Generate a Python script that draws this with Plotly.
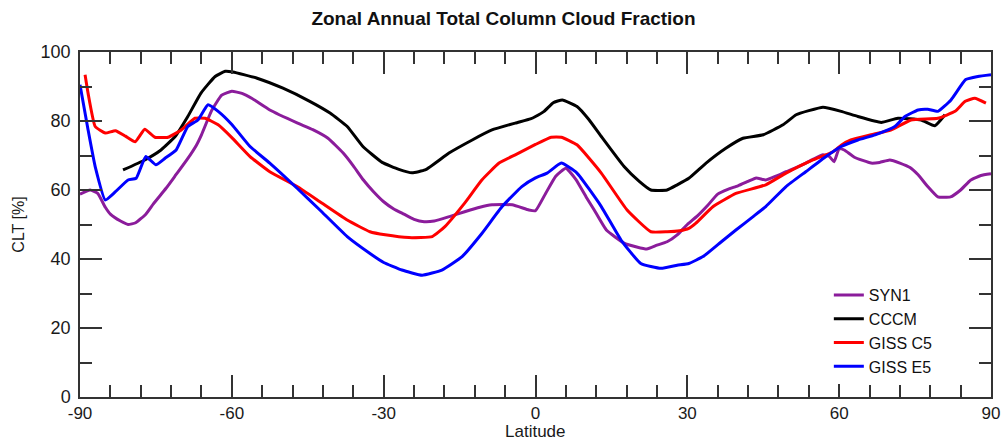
import plotly.graph_objects as go

# ---- data (latitude in degrees, CLT in %) ----
syn1_lat = [-90, -88, -86.5, -85, -84, -82, -80.5, -79, -77, -75.5, -73, -71, -69, -67, -66, -64, -62, -60,
            -58, -56, -52.5, -47, -44, -41, -38, -36, -34, -32, -30, -28, -26, -24, -22, -20, -17, -14, -11,
            -8.6, -4.6, -1.3, 0, 2, 4, 6, 8, 10, 11.6, 14, 17.5, 20, 22, 24, 26, 28, 30, 32, 34, 36, 38, 40,
            42, 43.6, 45.5, 47.5, 49.5, 51.5, 53.4, 55, 56.8, 58, 59, 60, 61, 63, 66.3, 68, 70, 72, 74, 75.6,
            77.5, 79.5, 82, 84, 86, 88, 90]
syn1_val = [58.8, 60, 59, 55, 53, 51, 50, 50.5, 53, 56, 60.5, 64.5, 68.5, 73, 76, 83, 87.5, 88.6,
            88, 86.5, 83.2, 79.4, 77.5, 75, 70.7, 67, 62.9, 59.5, 56.6, 54.5, 53, 51.5, 50.8, 51, 52.3, 53.7, 55,
            55.7, 55.7, 54.2, 54, 59, 64, 66.3, 63, 58, 54.2, 48.4, 44.6, 43.5, 42.9, 44, 45, 47, 50, 52.5, 55.5,
            58.8, 60.2, 61.2, 62.5, 63.5, 62.9, 64, 65.3, 66.5, 67.8, 69, 70.2, 69.8, 68.2, 72, 71.6, 69.5, 67.8,
            68, 68.7, 67.8, 66.5, 64.4, 61, 58, 58, 60, 62.9, 64.2, 64.7]

cccm_lat = [-81.5, -77.2, -74, -71.2, -68.7, -66.1, -63.3, -61.3, -59.8, -55, -49.9, -44.6, -40.6, -37.2,
            -34.1, -30.3, -27, -24.4, -21.8, -17.1, -12.5, -8.6, -4, -1, 0, 1.7, 3.5, 5.3, 8.2, 10.5, 13,
            17.5, 20.5, 22.8, 26, 28, 30.3, 33.7, 37.6, 41, 45, 48.9, 51.5, 54, 56.8, 60.4, 63.7, 68.3, 71.6,
            76.2, 78.9, 80.9]
cccm_val = [65.8, 68.7, 71.6, 75.5, 81.3, 88.1, 92.9, 94.4, 94.2, 92.4, 89.5, 85.7, 82.3, 78.4,
            72.6, 68, 66, 65, 65.8, 70.7, 74.5, 77.4, 79.4, 80.6, 81.3, 82.8, 85.3, 86.1, 84.2, 80.5, 75.5,
            66.8, 62.5, 60, 60, 61.5, 63.4, 67.8, 72.1, 75, 76, 78.9, 81.8, 83, 84, 82.8, 81.3, 79.6, 80.8,
            80.3, 78.6, 81.8]

c5_lat = [-89, -88.4, -87, -85, -83, -81, -79.1, -77.2, -75.2, -72.6, -70, -67.3, -65.3, -62.7, -60,
          -56.4, -52.5, -47.1, -42.6, -37.2, -32.7, -29.7, -25, -20.4, -17.9, -14, -10.6, -7.2, -4, 0, 3.1,
          5.1, 8.2, 13, 18.1, 22.8, 26, 28.5, 30.3, 31.7, 35.1, 39.6, 45.5, 49.5, 54.8, 58.8, 60.4, 62.3,
          66.3, 70.2, 74.2, 79.5, 82.9, 84.9, 86.8, 89]
c5_val = [93.4, 88, 78.4, 76.5, 77.2, 75.6, 74, 77.6, 75.3, 75.3, 77.4, 80.8, 80.8, 78.9, 75.2,
          69.7, 65.3, 61, 56.6, 51.3, 47.9, 47, 46.2, 46.5, 49.4, 56.2, 62.9, 67.8, 70.2, 73.2, 75.3,
          75.3, 73.1, 64.9, 54.2, 47.9, 47.9, 48.2, 48.9, 50.4, 55.2, 59, 61.5, 64.9, 68.7, 71.1, 73, 74.5,
          76, 77.4, 80.3, 80.8, 82.8, 85.7, 86.6, 85.2]

e5_lat = [-90, -88.4, -87, -85, -83, -80.5, -78.9, -77, -75, -73.2, -71, -68.7, -66.7, -64.7, -62.7, -60,
          -56.4, -52.5, -47.1, -42.6, -37.2, -32.7, -30, -26.4, -22.4, -18.5, -14.5, -10.6, -6.6, -2.7, 0,
          2.3, 5.1, 8.2, 13, 16.9, 20.8, 24.8, 28, 30.3, 33.1, 36.3, 39.6, 43, 45.5, 49.5, 53.4, 57.4, 60.4,
          63.7, 67.1, 71, 73, 75.6, 77.5, 79.5, 82.1, 85, 87.4, 90]
e5_val = [90.5, 77.4, 66.8, 57.1, 59.5, 62.9, 63.4, 69.7, 67.3, 69.2, 71.6, 78.4, 80.3, 84.7, 82.8, 79,
          72.6, 67.8, 60.5, 54.2, 46.5, 41.6, 39, 36.8, 35.3, 36.8, 40.7, 47.4, 55.2, 61, 63.5,
          64.9, 67.8, 64.9, 55.2, 45.5, 38.7, 37.3, 38.2, 38.7, 40.7, 44.5, 48.4, 52.3, 55.2, 61, 65.3, 69.7,
          72.6, 74.5, 76, 78.4, 81.3, 83.2, 83.4, 82.8, 86.1, 92, 92.9, 93.4]

series = [
    ("SYN1", syn1_lat, syn1_val, "#8b1c9b"),
    ("CCCM", cccm_lat, cccm_val, "#000000"),
    ("GISS C5", c5_lat, c5_val, "#ff0000"),
    ("GISS E5", e5_lat, e5_val, "#0000ff"),
]

x_ticks = [-90, -60, -30, 0, 30, 60, 90]
y_ticks = [0, 20, 40, 60, 80, 100]

FONT = "Liberation Sans, Arial, Helvetica, sans-serif"
AXC = "#333333"

fig = go.Figure()
for name, lat, val, col in series:
    fig.add_trace(go.Scatter(x=lat, y=val, mode="lines", name=name,
                             line=dict(color=col, width=3, shape="spline", smoothing=0.4)))

fig.update_layout(
    width=1007, height=440,
    margin=dict(l=80, r=16, t=52, b=43),
    paper_bgcolor="white", plot_bgcolor="white",
    font=dict(family=FONT, size=18, color="#1a1a1a"),
    title=dict(text="<b>Zonal Annual Total Column Cloud Fraction</b>",
               x=0.5, xanchor="center", y=0.958, yanchor="middle",
               font=dict(family=FONT, size=19, color="#111111")),
    legend=dict(x=0.822, y=0.345, xanchor="left", yanchor="top",
                bgcolor="white", borderwidth=0, tracegroupgap=0,
                font=dict(family=FONT, size=16, color="#111111")),
    showlegend=True,
    annotations=[dict(text="Latitude", xref="paper", yref="paper", x=0.5, y=0,
                      xanchor="center", yanchor="top", yshift=-23, showarrow=False,
                      font=dict(family=FONT, size=17, color="#1a1a1a"))],
)

fig.update_xaxes(
    range=[-90, 90], tickvals=x_ticks, ticktext=[str(v) for v in x_ticks],
    ticks="inside", ticklen=22, tickwidth=1.5, tickcolor=AXC,
    minor=dict(dtick=6, tick0=-90, ticks="inside", ticklen=12, tickwidth=1.5, tickcolor=AXC),
    showline=True, linecolor=AXC, linewidth=1.5, mirror="ticks",
    showgrid=False, zeroline=False, automargin=False,
    tickfont=dict(size=17),
)
fig.update_yaxes(
    range=[0, 100], tickvals=y_ticks, ticktext=[str(v) for v in y_ticks],
    ticks="inside", ticklen=22, tickwidth=1.5, tickcolor=AXC,
    minor=dict(dtick=10, tick0=0, ticks="inside", ticklen=12, tickwidth=1.5, tickcolor=AXC),
    showline=True, linecolor=AXC, linewidth=1.5, mirror="ticks",
    showgrid=False, zeroline=False, automargin=False,
    ticklabelstandoff=4,
    title=dict(text="CLT [%]", standoff=12, font=dict(size=16)),
    tickfont=dict(size=18),
)

fig.write_html("out.html")
